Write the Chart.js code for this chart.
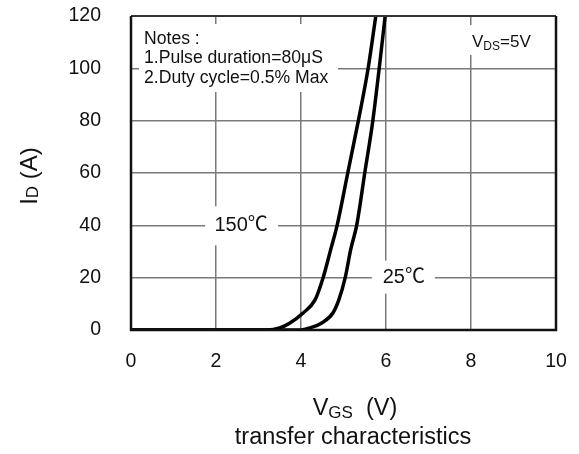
<!DOCTYPE html>
<html><head><meta charset="utf-8">
<script src="https://cdn.jsdelivr.net/npm/chart.js@4.4.0/dist/chart.umd.min.js"></script>
<style>html,body{margin:0;padding:0;background:#fff}#wrap{width:579px;height:454px}</style>
</head><body><div id="wrap"><canvas id="c" width="579" height="454"></canvas></div>
<script>
const vgs150 = [0, 3.2, 3.5, 3.74, 4.05, 4.33, 4.52, 4.70, 4.85, 5.10, 5.35, 5.58, 5.76];
const id150  = [0, 0, 0.8, 2.7, 6.5, 11.5, 20, 30.8, 40, 60, 80, 100, 120];
const vgs25  = [0, 4.0, 4.21, 4.49, 4.75, 4.89, 5.04, 5.17, 5.31, 5.50, 5.69, 5.84, 5.98];
const id25   = [0, 0, 0.8, 2.7, 6.5, 11.5, 20, 30.8, 40, 60, 80, 100, 120];
const xTicks = [0, 2, 4, 6, 8, 10];
const yTicks = [0, 20, 40, 60, 80, 100, 120];
const curveLabels = ["150℃", "25℃"];
const notes = ["Notes :", "1.Pulse duration=80μS", "2.Duty cycle=0.5% Max"];

const FONT = "'Liberation Sans', Arial, 'Noto Sans CJK SC', sans-serif";
const toPts = (xs, ys) => xs.map((x, i) => ({x: x, y: ys[i]}));

const overlay = {
  id: 'overlay',
  beforeDatasetsDraw(chart) {
    const ctx = chart.ctx, xs = chart.scales.x, ys = chart.scales.y;
    ctx.save();
    ctx.fillStyle = '#fff';
    // white boxes breaking the grid behind the annotations
    ctx.fillRect(139, 24, 199, 68);
    ctx.fillRect(468, 25, 67, 30);
    const p150 = {x: xs.getPixelForValue(2.59), y: ys.getPixelForValue(40)};
    const p25 = {x: xs.getPixelForValue(6.42), y: ys.getPixelForValue(20)};
    ctx.fillRect(p150.x - 36, p150.y - 19, 73, 39);
    ctx.fillRect(p25.x - 32, p25.y - 17, 63, 33);
    ctx.fillStyle = '#111';
    ctx.textBaseline = 'middle';
    ctx.font = '17.6px ' + FONT;
    ctx.textAlign = 'left';
    notes.forEach((t, i) => ctx.fillText(t, 144, 39 + i * 19.5));
    // V_DS = 5V
    ctx.font = '17px ' + FONT;
    ctx.fillText('V', 472, 42);
    let w = ctx.measureText('V').width;
    ctx.font = '12px ' + FONT;
    ctx.fillText('DS', 472 + w, 47);
    let w2 = ctx.measureText('DS').width;
    ctx.font = '17px ' + FONT;
    ctx.fillText('=5V', 472 + w + w2, 42);
    ctx.font = '20px ' + FONT;
    ctx.textAlign = 'center';
    ctx.fillText(curveLabels[0], p150.x, p150.y);
    ctx.fillText(curveLabels[1], p25.x, p25.y);
    ctx.restore();
  },
  afterDraw(chart) {
    const ctx = chart.ctx, a = chart.chartArea;
    ctx.save();
    // frame
    ctx.strokeStyle = '#333';
    ctx.lineWidth = 2;
    ctx.beginPath();
    ctx.moveTo(a.left, a.top); ctx.lineTo(a.right, a.top);
    ctx.stroke();
    ctx.strokeStyle = '#111';
    ctx.lineWidth = 2.5;
    ctx.beginPath();
    ctx.moveTo(a.left, a.top); ctx.lineTo(a.left, a.bottom);
    ctx.lineTo(a.right, a.bottom); ctx.lineTo(a.right, a.top);
    ctx.stroke();
    // axis titles
    ctx.fillStyle = '#111';
    ctx.textBaseline = 'middle';
    ctx.textAlign = 'left';
    // x title: V_GS (V)
    ctx.font = '23.5px ' + FONT;
    const wV = ctx.measureText('V').width;
    ctx.font = '17px ' + FONT;
    const wGS = ctx.measureText('GS').width;
    ctx.font = '23.5px ' + FONT;
    const wR = ctx.measureText('  (V)').width;
    let sx = 355 - (wV + wGS + wR) / 2;
    ctx.fillText('V', sx, 409);
    ctx.font = '17px ' + FONT;
    ctx.fillText('GS', sx + wV, 413);
    ctx.font = '23.5px ' + FONT;
    ctx.fillText('  (V)', sx + wV + wGS, 409);
    ctx.textAlign = 'center';
    ctx.fillText('transfer characteristics', 353, 438);
    // y title: I_D (A)
    ctx.translate(30, 176);
    ctx.rotate(-Math.PI / 2);
    ctx.textAlign = 'left';
    ctx.font = '24px ' + FONT;
    const wI = ctx.measureText('I').width;
    ctx.font = '17px ' + FONT;
    const wD = ctx.measureText('D').width;
    ctx.font = '24px ' + FONT;
    const wA = ctx.measureText(' (A)').width;
    let sy = -(wI + wD + wA) / 2;
    ctx.fillText('I', sy, 0);
    ctx.font = '17px ' + FONT;
    ctx.fillText('D', sy + wI, 3);
    ctx.font = '24px ' + FONT;
    ctx.fillText(' (A)', sy + wI + wD, 0);
    ctx.restore();
  }
};

new Chart(document.getElementById('c'), {
  type: 'scatter',
  data: {
    datasets: [
      {label: curveLabels[0], data: toPts(vgs150, id150)},
      {label: curveLabels[1], data: toPts(vgs25, id25)}
    ].map(d => Object.assign(d, {
      showLine: true, borderColor: '#000', borderWidth: 3.5, pointRadius: 0,
      cubicInterpolationMode: 'monotone', fill: false
    }))
  },
  options: {
    responsive: false, animation: false,
    layout: {padding: {left: 0, right: 23, top: 16, bottom: 0}},
    plugins: {legend: {display: false}, tooltip: {enabled: false}},
    scales: {
      x: {
        type: 'linear', min: 0, max: 10,
        afterBuildTicks: s => { s.ticks = xTicks.map(v => ({value: v})); },
        afterFit: s => { s.height = 124; s.paddingLeft = 0; s.paddingRight = 0; },
        grid: {color: '#7a7a7a', lineWidth: 1.5, drawTicks: false},
        border: {display: false},
        ticks: {padding: 20, color: '#111', font: {family: FONT, size: 19.5}}
      },
      y: {
        type: 'linear', min: 0, max: 120,
        afterBuildTicks: s => { s.ticks = yTicks.map(v => ({value: v})); },
        afterFit: s => { s.width = 131; s.paddingTop = 0; s.paddingBottom = 0; },
        grid: {color: '#7a7a7a', lineWidth: 1.5, drawTicks: false},
        border: {display: false},
        ticks: {padding: 30, color: '#111', font: {family: FONT, size: 19.5}}
      }
    }
  },
  plugins: [overlay]
});
</script></body></html>
